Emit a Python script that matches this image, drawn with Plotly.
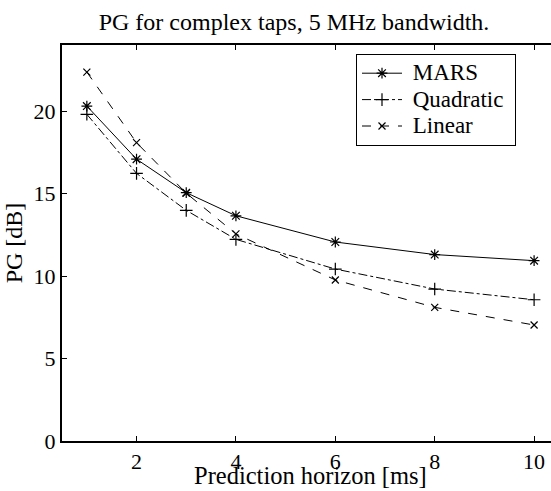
import plotly.graph_objects as go

horizon = [1, 2, 3, 4, 6, 8, 10]
mars = [20.3, 17.08, 15.05, 13.65, 12.06, 11.3, 10.93]
quadratic = [19.8, 16.22, 13.98, 12.22, 10.42, 9.21, 8.56]
linear = [22.36, 18.08, 15.02, 12.55, 9.76, 8.1, 7.03]
series_names = ["MARS", "Quadratic", "Linear"]

x_ticks = [2, 4, 6, 8, 10]
y_ticks = [0, 5, 10, 15, 20]

FONT = "Liberation Serif"
W, H = 551, 491
L, R, T, B = 62, 0, 45, 50


def legend_label(s):
    return "<span style='font-size:23px'>\u00a0" + s + "\u00a0</span>"


fig = go.Figure()
fig.add_trace(go.Scatter(
    x=horizon, y=mars, name=legend_label(series_names[0]), mode="lines+markers",
    line=dict(color="black", width=1, dash="solid"),
    marker=dict(symbol="asterisk-open", size=9, color="black", line=dict(color="black", width=1.2)),
))
fig.add_trace(go.Scatter(
    x=horizon, y=quadratic, name=legend_label(series_names[1]), mode="lines+markers",
    line=dict(color="black", width=1, dash="dashdot"),
    marker=dict(symbol="cross-thin-open", size=9, color="black", line=dict(color="black", width=1.2)),
))
fig.add_trace(go.Scatter(
    x=horizon, y=linear, name=legend_label(series_names[2]), mode="lines+markers",
    line=dict(color="black", width=1, dash="dash"),
    marker=dict(symbol="x-thin-open", size=7, color="black", line=dict(color="black", width=1.2)),
))

fig.update_layout(
    width=W, height=H,
    margin=dict(l=L, r=R, t=T, b=B),
    paper_bgcolor="white", plot_bgcolor="white",
    font=dict(family=FONT, size=22, color="black"),
    title=dict(text="PG for complex taps, 5 MHz bandwidth.", x=294 / W, xanchor="center",
               y=1 - 22 / H, yanchor="middle", font=dict(family=FONT, size=24)),
    showlegend=True,
    legend=dict(x=(356 - L) / (W - L - R), y=(H - B - 54) / (H - T - B), xanchor="left", yanchor="top",
                bordercolor="black", borderwidth=1, bgcolor="white",
                font=dict(family=FONT, size=18), tracegroupgap=0, itemwidth=40),
    annotations=[dict(text="Prediction horizon [ms]", xref="paper", yref="paper",
                      x=(310 - L) / (W - L - R), y=-B / (H - T - B),
                      xanchor="center", yanchor="bottom", showarrow=False,
                      font=dict(family=FONT, size=24.5))],
)
fig.update_xaxes(
    range=[0.5, 10.34], tickvals=x_ticks, ticks="inside", ticklen=5, tickcolor="black",
    showline=True, linecolor="black", linewidth=2, mirror="ticks", showgrid=False, zeroline=False,
    tickfont=dict(family=FONT, size=22),
)
fig.update_yaxes(
    range=[0, 24], tickvals=y_ticks, ticks="inside", ticklen=5, tickcolor="black",
    showline=True, linecolor="black", linewidth=2, showgrid=False, zeroline=False,
    title=dict(text="PG [dB]", standoff=4, font=dict(family=FONT, size=24)),
    tickfont=dict(family=FONT, size=22),
)
fig.write_html("out.html")
